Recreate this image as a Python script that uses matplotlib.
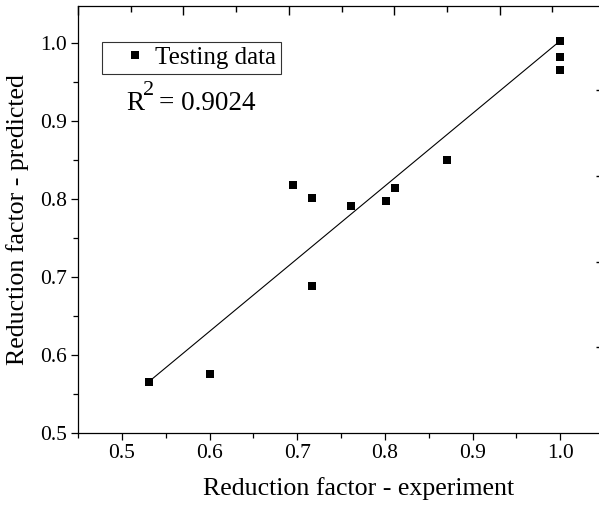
import matplotlib
matplotlib.use("Agg")
import matplotlib.pyplot as plt
import matplotlib.transforms as mtransforms
from matplotlib.ticker import MultipleLocator, FormatStrFormatter

plt.rcParams['font.family'] = ['Liberation Serif', 'DejaVu Serif']

# testing data: experiment vs predicted reduction factor
experiment = [0.531, 0.601, 0.695, 0.717, 0.717, 0.761, 0.801, 0.811, 0.871, 1.0, 1.0, 1.0]
predicted = [0.566, 0.576, 0.818, 0.801, 0.688, 0.791, 0.798, 0.814, 0.850, 1.003, 0.982, 0.965]

# fitted line end points
fit_x = [0.531, 1.0]
fit_y = [0.566, 1.003]

r2_value = '0.9024'

W, H = 599, 507
XMIN, XMAX = 0.45, 1.0464
YMIN, YMAX = 0.5, 1.0475

fig = plt.figure(figsize=(W / 100, H / 100), dpi=100)
ax = fig.add_axes([78 / W, (H - 433) / H, 523 / W, 427 / H])

ax.plot(fit_x, fit_y, color='black', lw=0.8, zorder=2)
ax.plot(experiment, predicted, 's', color='black', ms=6.2, mew=0,
        label='Testing data', zorder=3)

ax.set_xlim(XMIN, XMAX)
ax.set_ylim(YMIN, YMAX)
ax.xaxis.set_major_locator(MultipleLocator(0.1))
ax.xaxis.set_minor_locator(MultipleLocator(0.05))
ax.yaxis.set_major_locator(MultipleLocator(0.1))
ax.yaxis.set_minor_locator(MultipleLocator(0.05))
ax.xaxis.set_major_formatter(FormatStrFormatter('%.1f'))
ax.yaxis.set_major_formatter(FormatStrFormatter('%.1f'))
ax.tick_params(which='major', direction='out', length=5, width=0.9, labelsize=15.5, pad=3)
ax.tick_params(which='minor', direction='out', length=3.3, width=0.9)
ax.tick_params(which='both', top=False, right=False)
for s in ax.spines.values():
    s.set_linewidth(0.9)
ax.spines['right'].set_visible(False)

ax.set_xlabel('Reduction factor - experiment', fontsize=18.6)
ax.xaxis.set_label_coords(0.537, -0.102)
ax.set_ylabel('Reduction factor - predicted', fontsize=18.6, labelpad=8)

# extra frame ticks on top and right (leftover scale of the original frame)
top = ax.twiny()
top.set_xlim(0, 4.962)
top.xaxis.set_major_locator(MultipleLocator(1))
top.xaxis.set_minor_locator(MultipleLocator(0.5))
top.tick_params(axis='x', which='major', direction='in', length=6.5, width=1.0,
                labeltop=False)
top.tick_params(axis='x', which='minor', direction='in', length=4, width=1.0)
for s in top.spines.values():
    s.set_visible(False)

right = ax.twinx()
right.set_ylim(0, 4.98)
right.set_yticks([1, 2, 3, 4])
right.tick_params(axis='y', direction='in', length=3.5, width=1.0, labelright=False)
for s in right.spines.values():
    s.set_visible(False)

leg = ax.legend(loc='upper left', bbox_to_anchor=(0.0465, 0.9164), borderaxespad=0,
                fontsize=18, frameon=True, fancybox=False, handlelength=2.19,
                handletextpad=-0.28, borderpad=0.2, numpoints=1, markerscale=0.86)
leg.get_frame().set_edgecolor('black')
leg.get_frame().set_linewidth(0.8)
leg.set_zorder(5)

# R^2 annotation with a large raised "2"
rx, ry = 0.0927, 0.7564
ax.text(rx, ry, 'R', transform=ax.transAxes, fontsize=19.5, ha='left', va='baseline')
sup = mtransforms.offset_copy(ax.transAxes, fig=fig, x=12.0, y=10.8, units='points')
ax.text(rx, ry, '2', transform=sup, fontsize=16, ha='left', va='baseline')
rest = mtransforms.offset_copy(ax.transAxes, fig=fig, x=23.5, y=0, units='points')
ax.text(rx, ry, '= ' + r2_value, transform=rest, fontsize=19.5, ha='left', va='baseline')

fig.savefig('out.png', dpi=100)
